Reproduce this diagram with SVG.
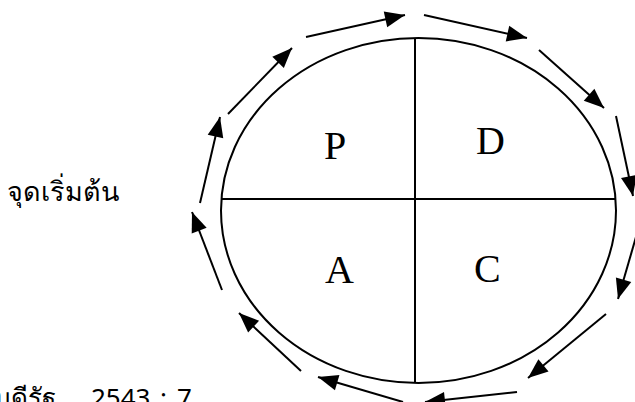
<svg xmlns="http://www.w3.org/2000/svg" width="635" height="402" viewBox="0 0 635 402">
<style>
.ln{stroke:#000;stroke-width:2;fill:none}
.ar{stroke:#000;stroke-width:2;fill:none;marker-end:url(#ah)}
.big{font-family:"Liberation Serif","Times New Roman",serif;font-size:40px;fill:#000}
.th{font-family:"Noto Sans","DejaVu Sans",sans-serif;fill:#000}
</style>
<defs>
<marker id="ah" markerUnits="userSpaceOnUse" markerWidth="22" markerHeight="16" refX="20" refY="8" orient="auto" overflow="visible">
<path d="M0,0 L20,8 L0,16 Z" fill="#000"/>
</marker>
</defs>
<rect width="635" height="402" fill="#fff"/>
<g id="cycle">
<ellipse cx="418.5" cy="210.5" rx="197.5" ry="172.5" class="ln"/>
<line x1="415" y1="38" x2="415" y2="383" class="ln" stroke-width="1.5"/>
<line x1="221" y1="199" x2="616" y2="199" class="ln" stroke-width="1.5"/>
</g>
<g id="P"><text x="324" y="159" class="big">P</text></g>
<g id="D"><text x="476" y="154" class="big">D</text></g>
<g id="A"><text x="325" y="283" class="big">A</text></g>
<g id="C"><text x="474" y="282" class="big">C</text></g>
<g id="start"><text x="7" y="201" class="th" font-size="27">จุดเริ่มต้น</text></g>
<g id="source"><text y="407" class="th" font-size="26"><tspan x="-6">บดีรัฐ</tspan><tspan x="91">2543</tspan><tspan x="160">:</tspan><tspan x="177">7</tspan></text></g>
<g id="connectors">
<line x1="200" y1="203" x2="220" y2="117" class="ar"/>
<line x1="228" y1="114" x2="292" y2="48" class="ar"/>
<line x1="306" y1="37" x2="405" y2="15" class="ar"/>
<line x1="424" y1="15" x2="527" y2="38" class="ar"/>
<line x1="539" y1="50" x2="604" y2="108" class="ar"/>
<line x1="616" y1="116" x2="633" y2="196" class="ar"/>
<line x1="636" y1="237" x2="618" y2="299" class="ar"/>
<line x1="606" y1="314" x2="528" y2="378" class="ar"/>
<line x1="517" y1="392" x2="425" y2="402" class="ar"/>
<line x1="403" y1="402" x2="318" y2="377" class="ar"/>
<line x1="301" y1="371" x2="239" y2="313" class="ar"/>
<line x1="222" y1="290" x2="192" y2="212" class="ar"/>
</g>
</svg>
